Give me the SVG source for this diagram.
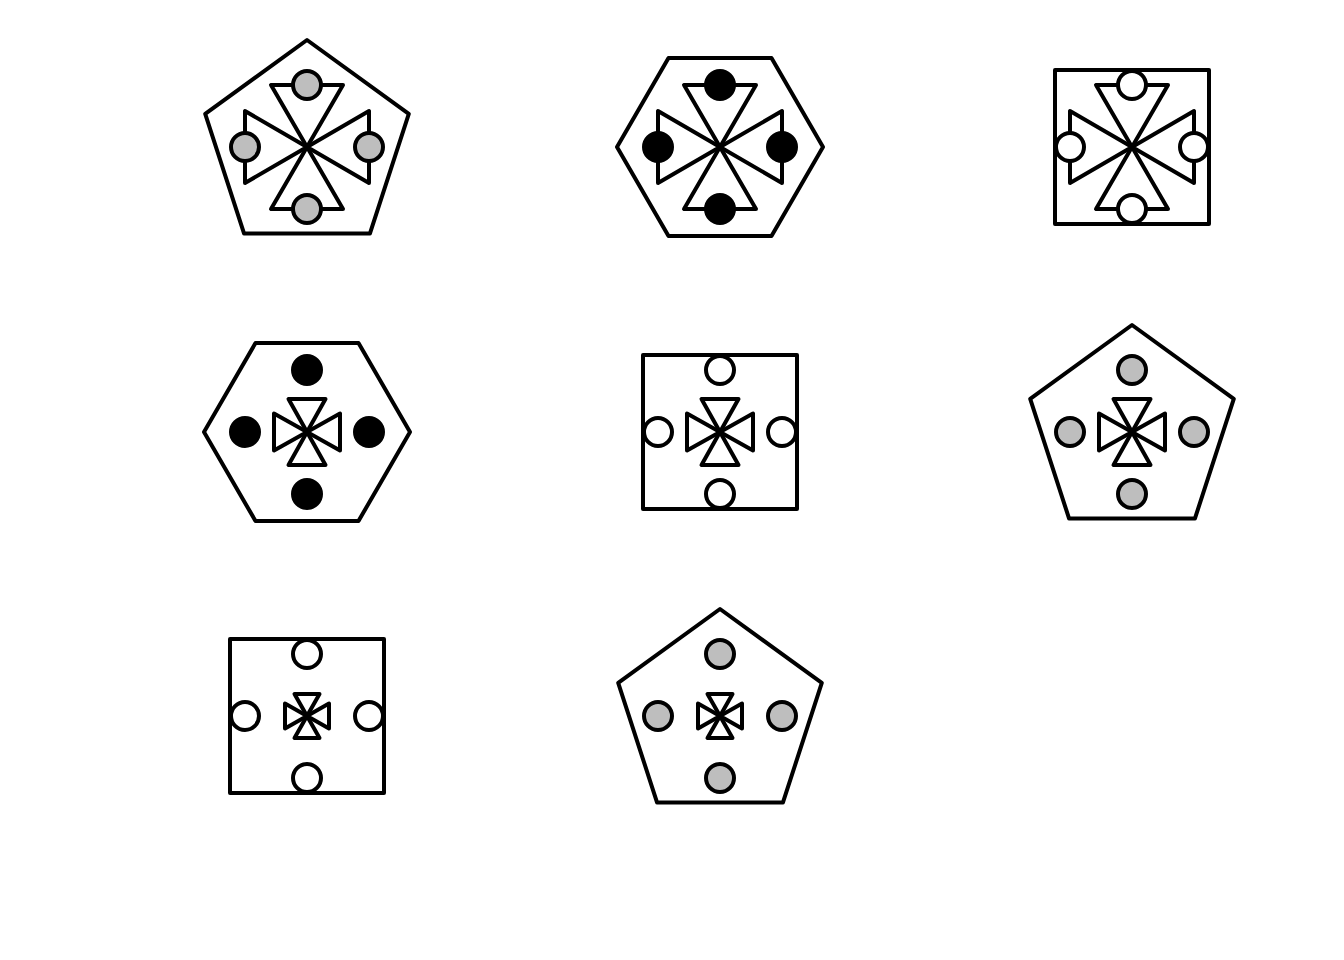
<svg xmlns="http://www.w3.org/2000/svg" width="1344" height="960" viewBox="0 0 1344 960">
<style>
.s{fill:none;stroke:#000;stroke-width:4;stroke-linejoin:round}
.t{fill:#fff;stroke:#000;stroke-width:4;stroke-linejoin:round}
.g{fill:#bebebe;stroke:#000;stroke-width:4}
.b{fill:#000;stroke:#000;stroke-width:4}
.w{fill:#fff;stroke:#000;stroke-width:4}
</style>
<defs>
<polygon id="pent" class="s" points="0,-107 101.8,-33.1 62.9,86.6 -62.9,86.6 -101.8,-33.1"/>
<polygon id="hex" class="s" points="-103,0 -51.5,-89 51.5,-89 103,0 51.5,89 -51.5,89"/>
<rect id="sq" class="s" x="-77" y="-77" width="154" height="154"/>
<g id="crossL" class="s">
<polygon points="0,0 -36,-62 36,-62"/>
<polygon points="0,0 -36,62 36,62"/>
<polygon points="0,0 -62,-36 -62,36"/>
<polygon points="0,0 62,-36 62,36"/>
</g>
<g id="crossM" class="s">
<polygon points="0,0 -18.5,-33 18.5,-33"/>
<polygon points="0,0 -18.5,33 18.5,33"/>
<polygon points="0,0 -33,-18.5 -33,18.5"/>
<polygon points="0,0 33,-18.5 33,18.5"/>
</g>
<g id="crossS" class="s">
<polygon points="0,0 -12.5,-22 12.5,-22"/>
<polygon points="0,0 -12.5,22 12.5,22"/>
<polygon points="0,0 -22,-12.5 -22,12.5"/>
<polygon points="0,0 22,-12.5 22,12.5"/>
</g>
<g id="dotsG" class="g">
<circle cx="0" cy="-62" r="14"/><circle cx="0" cy="62" r="14"/><circle cx="-62" cy="0" r="14"/><circle cx="62" cy="0" r="14"/>
</g>
<g id="dotsB" class="b">
<circle cx="0" cy="-62" r="14"/><circle cx="0" cy="62" r="14"/><circle cx="-62" cy="0" r="14"/><circle cx="62" cy="0" r="14"/>
</g>
<g id="dotsW" class="w">
<circle cx="0" cy="-62" r="14"/><circle cx="0" cy="62" r="14"/><circle cx="-62" cy="0" r="14"/><circle cx="62" cy="0" r="14"/>
</g>
</defs>
<rect width="1344" height="960" fill="#fff"/>
<g id="fig1" transform="translate(307,147)"><use href="#pent"/><use href="#crossL"/><use href="#dotsG"/></g>
<g id="fig2" transform="translate(720,147)"><use href="#hex"/><use href="#crossL"/><use href="#dotsB"/></g>
<g id="fig3" transform="translate(1132,147)"><use href="#sq"/><use href="#crossL"/><use href="#dotsW"/></g>
<g id="fig4" transform="translate(307,432)"><use href="#hex"/><use href="#crossM"/><use href="#dotsB"/></g>
<g id="fig5" transform="translate(720,432)"><use href="#sq"/><use href="#crossM"/><use href="#dotsW"/></g>
<g id="fig6" transform="translate(1132,432)"><use href="#pent"/><use href="#crossM"/><use href="#dotsG"/></g>
<g id="fig7" transform="translate(307,716)"><use href="#sq"/><use href="#crossS"/><use href="#dotsW"/></g>
<g id="fig8" transform="translate(720,716)"><use href="#pent"/><use href="#crossS"/><use href="#dotsG"/></g>
<g id="connectors"/>
</svg>
